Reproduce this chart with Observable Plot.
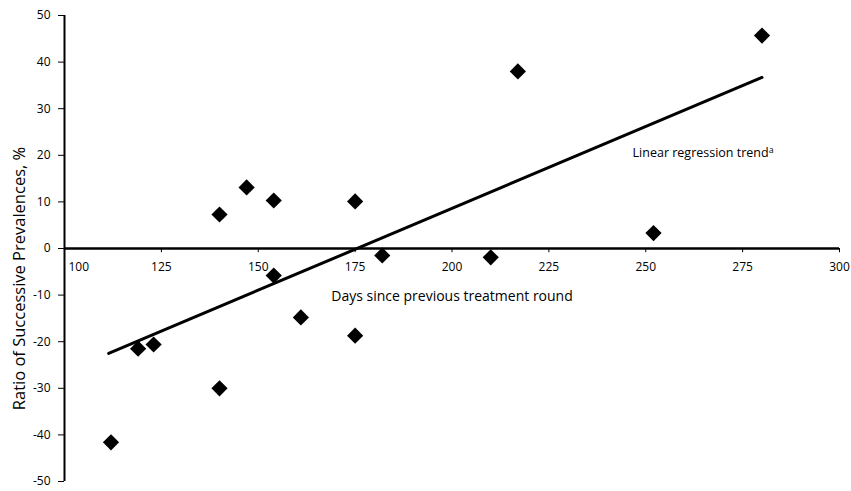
<!DOCTYPE html>
<html>
<head>
<meta charset="utf-8">
<script src="https://cdn.jsdelivr.net/npm/d3@7"></script>
<script src="https://cdn.jsdelivr.net/npm/@observablehq/plot@0.6"></script>
<style>
  html, body { margin: 0; padding: 0; background: #fff; }
  #chart { width: 851px; height: 491px; }
</style>
</head>
<body>
<div id="chart"></div>
<script>
// Data
const days = [112, 119, 123, 140, 140, 147, 154, 154, 161, 175, 175, 182, 210, 217, 252, 280];
const ratio = [-41.6, -21.5, -20.6, 7.3, -30.0, 13.1, 10.3, -5.8, -14.8, 10.1, -18.7, -1.5, -1.9, 38.0, 3.3, 45.7];
const trendDays = [111.4, 280];
const trendRatio = [-22.5, 36.7];
const xTicks = [100, 125, 150, 175, 200, 225, 250, 275, 300];
const yTicks = [-50, -40, -30, -20, -10, 0, 10, 20, 30, 40, 50];
const yTitle = "Ratio of Successive Prevalences, %";
const xTitle = "Days since previous treatment round";
const trendLabel = "Linear regression trend";
const trendSup = "a";

const points = days.map((d, i) => ({days: d, ratio: ratio[i]}));
const trend = trendDays.map((d, i) => ({days: d, ratio: trendRatio[i]}));

const font = "'Open Sans', 'Noto Sans', sans-serif";

const chart = Plot.plot({
  width: 851,
  height: 491,
  marginLeft: 64,
  marginRight: 12,
  marginTop: 15,
  marginBottom: 10,
  style: {fontFamily: font, background: "#fff", color: "#000"},
  x: {domain: [100, 300], axis: null},
  y: {domain: [-50, 50]},
  marks: [
    Plot.axisY({ticks: yTicks, tickSize: 6, tickPadding: 8, fontSize: 12, tickFormat: d => String(d), label: null, stroke: "#000", strokeWidth: 1}),
    Plot.ruleX([100], {strokeWidth: 2, stroke: "#000"}),
    Plot.text([yTitle], {frameAnchor: "left", textAnchor: "middle", rotate: -90, dx: -45, dy: 30, fontSize: 16.5, fill: "#000"}),
    // horizontal axis drawn at y = 0
    Plot.ruleY([0], {x1: 100, x2: 300, strokeWidth: 2.5, stroke: "#000"}),
    Plot.ruleX(xTicks, {x: d => d, y1: 0, y2: -0.9, stroke: "#000", strokeWidth: 1}),
    Plot.text(xTicks.slice(1), {x: d => d, y: 0, dy: 19, text: d => String(d), fontSize: 12, fill: "#000"}),
    Plot.text(xTicks.slice(0, 1), {x: d => d, y: 0, dy: 19, dx: 4, textAnchor: "start", text: d => String(d), fontSize: 12, fill: "#000"}),
    Plot.text([xTitle], {x: 200, y: -10.3, fontSize: 14, fill: "#000"}),
    Plot.text([trendLabel], {x: 246.6, y: 20.6, textAnchor: "start", fontSize: 12.5, fill: "#000", className: "trend-label"}),
    Plot.line(trend, {x: "days", y: "ratio", stroke: "#000", strokeWidth: 3}),
    Plot.dot(points, {x: "days", y: "ratio", symbol: "diamond2", r: 7.3, fill: "#000", stroke: "none"})
  ]
});

document.getElementById("chart").appendChild(chart);

// superscript "a" on the trend label
d3.select(chart).selectAll(".trend-label text").each(function() {
  d3.select(this).append("tspan")
    .attr("dy", "-0.45em")
    .attr("font-size", "0.7em")
    .text(trendSup);
});
</script>
</body>
</html>
